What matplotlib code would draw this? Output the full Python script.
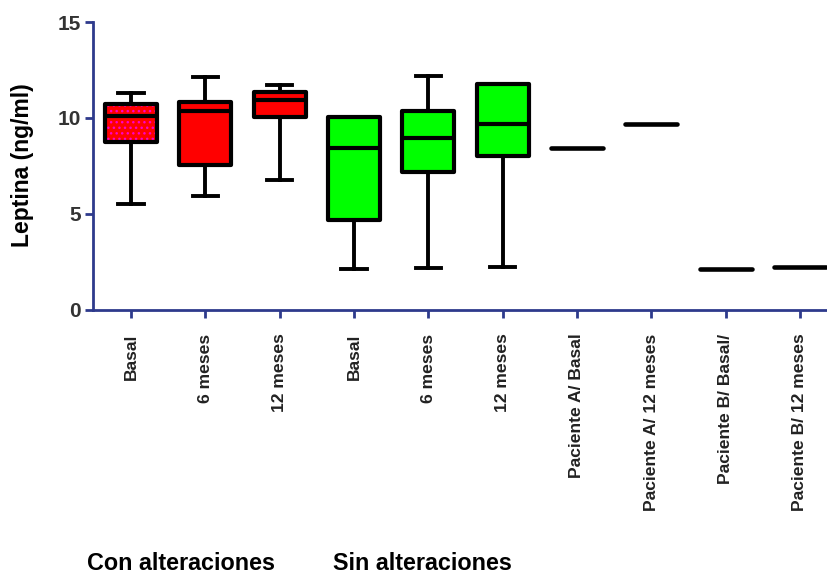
import matplotlib.pyplot as plt
from matplotlib.patches import PathPatch

# Leptina (ng/ml)
labels = ["Basal", "6 meses", "12 meses", "Basal", "6 meses", "12 meses",
          "Paciente A/ Basal", "Paciente A/ 12 meses",
          "Paciente B/ Basal/", "Paciente B/ 12 meses"]
y_ticks = [0, 5, 10, 15]

# box groups: con alteraciones (0-2) and sin alteraciones (3-5)
box_whislo = [5.54, 5.94, 6.77, 2.15, 2.19, 2.22]
box_q1 = [8.77, 7.55, 10.07, 4.69, 7.20, 8.04]
box_med = [10.12, 10.36, 10.94, 8.45, 8.98, 9.67]
box_q3 = [10.71, 10.85, 11.34, 10.07, 10.35, 11.75]
box_whishi = [11.32, 12.15, 11.74, 10.07, 12.17, 11.75]
box_colors = ["#ff0000", "#ff0000", "#ff0000", "#00ff00", "#00ff00", "#00ff00"]

# single patients (one value each)
patient_vals = [8.44, 9.67, 2.14, 2.22]

navy = "#2e3a8c"
text_col = "#222222"
sans = ["Liberation Sans", "DejaVu Sans"]

plt.rcParams["hatch.linewidth"] = 1.0

fig = plt.figure(figsize=(8.27, 5.73), dpi=100)
ax = fig.add_axes([0.1125, 0.459, 0.8875, 0.5026])

stats = []
for i in range(len(box_med)):
    stats.append({"med": box_med[i], "q1": box_q1[i], "q3": box_q3[i],
                  "whislo": box_whislo[i], "whishi": box_whishi[i], "fliers": []})

positions = list(range(len(stats)))
bp = ax.bxp(stats, positions=positions, widths=0.7, capwidths=0.34,
            patch_artist=True, showfliers=False,
            boxprops=dict(linewidth=3.0, edgecolor="black", joinstyle="round"),
            medianprops=dict(color="black", linewidth=3.0),
            whiskerprops=dict(color="black", linewidth=2.8),
            capprops=dict(color="black", linewidth=2.8))
for patch, c in zip(bp["boxes"], box_colors):
    patch.set_facecolor(c)
    patch.set_zorder(3)

# dotted fill on the first box
fill = PathPatch(bp["boxes"][0].get_path(), facecolor="#ff0000",
                 edgecolor="none", zorder=3)
ax.add_patch(fill)
dots = PathPatch(bp["boxes"][0].get_path(), facecolor="none",
                 edgecolor="#ff00cc", hatch="...", linewidth=0, zorder=3.5)
ax.add_patch(dots)
bp["boxes"][0].set_facecolor("none")
bp["boxes"][0].set_zorder(4)
for ln in bp["medians"]:
    ln.set_zorder(5)

# patients are drawn as single horizontal bars
p_pos = [len(stats) + i for i in range(len(patient_vals))]
ax.hlines(patient_vals, [p - 0.35 for p in p_pos], [p + 0.35 for p in p_pos],
          colors="black", linewidth=3.3, capstyle="round", zorder=4)

ax.set_xlim(-0.511, 9.364)
ax.set_ylim(0, 15)
ax.set_yticks(y_ticks)
ax.set_yticklabels([str(v) for v in y_ticks], fontsize=15, fontweight="bold",
                   family=sans, color="#333333")
ax.set_xticks(range(len(labels)))
ax.set_xticklabels(labels, rotation=90, fontsize=12.6, fontweight="bold",
                   family=sans, color=text_col)

for side in ["top", "right"]:
    ax.spines[side].set_visible(False)
for side in ["left", "bottom"]:
    ax.spines[side].set_color(navy)
    ax.spines[side].set_linewidth(2.0)
ax.tick_params(axis="both", color=navy, width=2.0, length=6, direction="out")
ax.tick_params(axis="x", pad=11)
ax.tick_params(axis="y", pad=3)

fig.text(0.027, 0.712, "Leptina (ng/ml)", rotation=90, ha="center", va="center",
         fontsize=16.5, fontweight="bold", family=sans, color="black")

fig.text(0.105, 0.006, "Con alteraciones", fontsize=16.8, fontweight="bold",
         family=sans, color="black", va="baseline")
fig.text(0.4027, 0.006, "Sin alteraciones", fontsize=16.8, fontweight="bold",
         family=sans, color="black", va="baseline")

fig.savefig("out.png", dpi=100)
